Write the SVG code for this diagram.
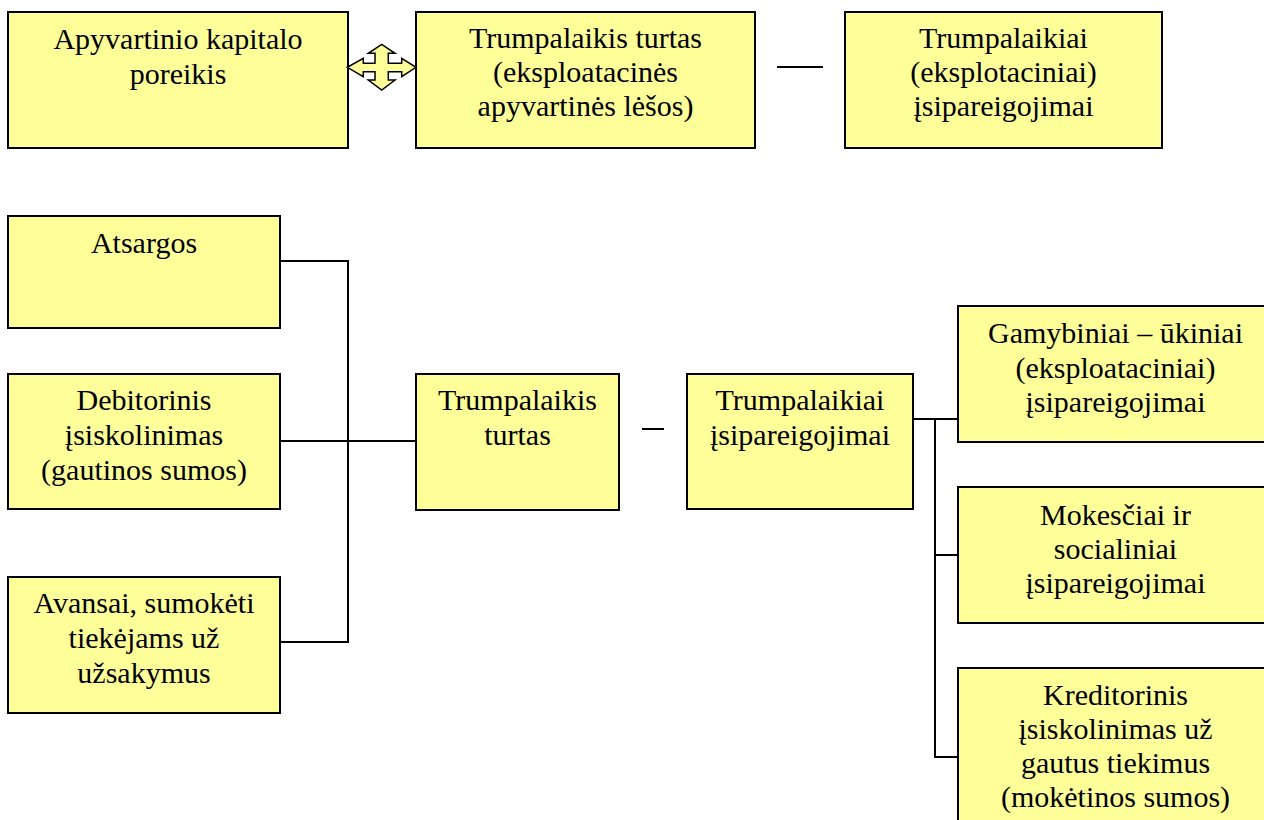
<svg xmlns="http://www.w3.org/2000/svg" width="1264" height="820" viewBox="0 0 1264 820">
  <style>
    .box { fill: #FFFF99; stroke: #000; stroke-width: 2; }
    .lbl { font-size: 30px; fill: #000; text-anchor: middle; }
    .wire { fill: none; stroke: #000; stroke-width: 2; }
    .cross { fill: #FFFF99; stroke: #000; stroke-width: 1.5; stroke-linejoin: miter; }
  </style>
  <rect width="1264" height="820" fill="#fff"/>

  <g font-family="'Liberation Serif', Tinos, 'Times New Roman', 'DejaVu Serif', serif">
  <!-- Top row -->
  <g id="node-poreikis">
    <rect class="box" x="8" y="12" width="340" height="136"/>
    <text class="lbl" x="178" y="49">Apyvartinio kapitalo</text>
    <text class="lbl" x="178" y="84">poreikis</text>
  </g>
  <g id="node-turtas-top">
    <rect class="box" x="416" y="12" width="339" height="136"/>
    <text class="lbl" x="585.5" y="48">Trumpalaikis turtas</text>
    <text class="lbl" x="585.5" y="82">(eksploatacinės</text>
    <text class="lbl" x="585.5" y="116">apyvartinės lėšos)</text>
  </g>
  <g id="node-isipareigojimai-top">
    <rect class="box" x="845" y="12" width="317" height="136"/>
    <text class="lbl" x="1003.5" y="48">Trumpalaikiai</text>
    <text class="lbl" x="1003.5" y="82">(eksplotaciniai)</text>
    <text class="lbl" x="1003.5" y="116">įsipareigojimai</text>
  </g>

  <!-- Left column -->
  <g id="node-atsargos">
    <rect class="box" x="8" y="216" width="272" height="112"/>
    <text class="lbl" x="144" y="253">Atsargos</text>
  </g>
  <g id="node-debitorinis">
    <rect class="box" x="8" y="374" width="272" height="135"/>
    <text class="lbl" x="144" y="410">Debitorinis</text>
    <text class="lbl" x="144" y="445">įsiskolinimas</text>
    <text class="lbl" x="144" y="480">(gautinos sumos)</text>
  </g>
  <g id="node-avansai">
    <rect class="box" x="8" y="577" width="272" height="136"/>
    <text class="lbl" x="144" y="613">Avansai, sumokėti</text>
    <text class="lbl" x="144" y="648">tiekėjams už</text>
    <text class="lbl" x="144" y="683">užsakymus</text>
  </g>

  <!-- Middle -->
  <g id="node-turtas">
    <rect class="box" x="416" y="374" width="203" height="136"/>
    <text class="lbl" x="517.5" y="410">Trumpalaikis</text>
    <text class="lbl" x="517.5" y="445">turtas</text>
  </g>
  <g id="node-isipareigojimai">
    <rect class="box" x="687" y="374" width="226" height="135"/>
    <text class="lbl" x="800" y="410">Trumpalaikiai</text>
    <text class="lbl" x="800" y="445">įsipareigojimai</text>
  </g>

  <!-- Right column -->
  <g id="node-gamybiniai">
    <rect class="box" x="958" y="306" width="315" height="136"/>
    <text class="lbl" x="1115.5" y="343">Gamybiniai – ūkiniai</text>
    <text class="lbl" x="1115.5" y="378">(eksploataciniai)</text>
    <text class="lbl" x="1115.5" y="412">įsipareigojimai</text>
  </g>
  <g id="node-mokesciai">
    <rect class="box" x="958" y="487" width="315" height="136"/>
    <text class="lbl" x="1115.5" y="525">Mokesčiai ir</text>
    <text class="lbl" x="1115.5" y="559">socialiniai</text>
    <text class="lbl" x="1115.5" y="593">įsipareigojimai</text>
  </g>
  <g id="node-kreditorinis">
    <rect class="box" x="958" y="668" width="315" height="170"/>
    <text class="lbl" x="1115.5" y="705">Kreditorinis</text>
    <text class="lbl" x="1115.5" y="739">įsiskolinimas už</text>
    <text class="lbl" x="1115.5" y="773">gautus tiekimus</text>
    <text class="lbl" x="1115.5" y="807">(mokėtinos sumos)</text>
  </g>
  </g>

  <!-- Connectors and operators -->
  <g id="connectors">
    <!-- four-way arrow between the first two boxes -->
    <path class="cross" d="M381.7,44.3 L395,53.3 L388.3,53.3 L388.3,63.3 L401.7,63.3 L401.7,58.3 L416,67.3 L401.7,76.7 L401.7,71.7 L388.3,71.7 L388.3,80 L395,80 L381.7,90 L368.3,80 L375,80 L375,71.7 L363.3,71.7 L363.3,76.7 L347.3,67.3 L363.3,58.3 L363.3,63.3 L375,63.3 L375,53.3 L368.3,53.3 Z"/>
    <!-- minus signs -->
    <line class="wire" x1="777" y1="67" x2="823" y2="67"/>
    <line class="wire" x1="642" y1="429" x2="664" y2="429"/>
    <!-- left bracket into current assets -->
    <polyline class="wire" points="280,261 348,261 348,642 280,642"/>
    <line class="wire" x1="280" y1="441" x2="416" y2="441"/>
    <!-- right bracket out of current liabilities -->
    <line class="wire" x1="913" y1="419" x2="958" y2="419"/>
    <polyline class="wire" points="935,419 935,757 958,757"/>
    <line class="wire" x1="935" y1="555" x2="958" y2="555"/>
  </g>
</svg>
